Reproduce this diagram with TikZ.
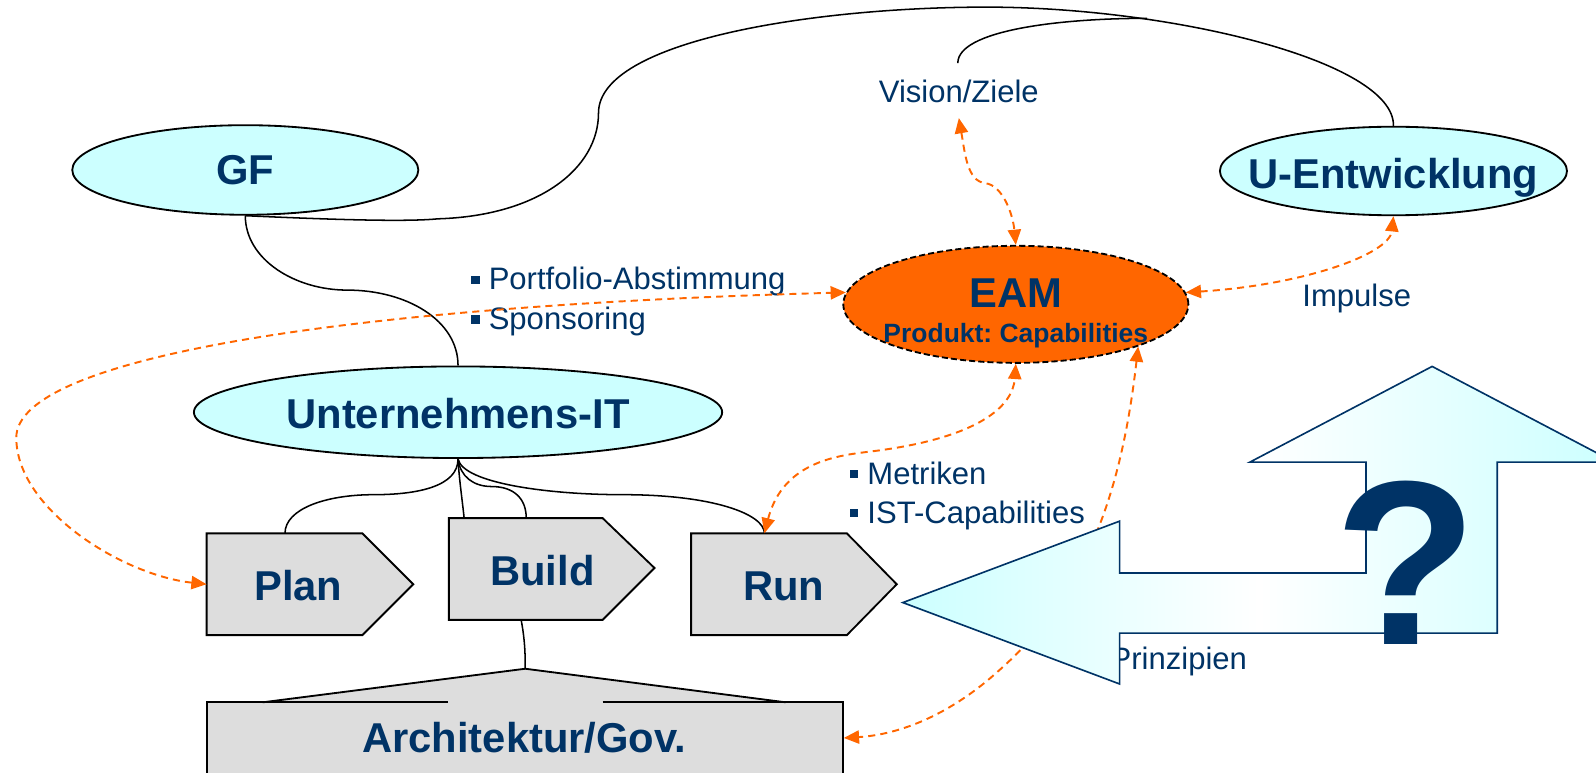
\documentclass[tikz,border=0pt]{standalone}
\usepackage{fontspec}
\setmainfont{Liberation Sans}
\usetikzlibrary{shapes.geometric,arrows.meta}
\definecolor{dblue}{RGB}{0,51,102}
\definecolor{lcyan}{RGB}{204,255,255}
\definecolor{orng}{RGB}{255,102,0}
\definecolor{lgray}{RGB}{221,221,221}
\newcommand{\mybul}{\rule[6pt]{8pt}{8pt}\hspace{9pt}}
\frenchspacing
\begin{document}
\begin{tikzpicture}[x=1pt,y=-1pt,
  bubble/.style={ellipse,draw=black,line width=1.8pt,fill=lcyan,inner sep=0pt},
  big/.style={font=\fontsize{41}{45}\selectfont\bfseries,text=dblue,inner sep=0pt,text height=29.5pt,text depth=0pt},
  mid/.style={font=\fontsize{26}{30}\selectfont\bfseries,text=dblue,inner sep=0pt,text height=18.6pt,text depth=0pt},
  small/.style={font=\fontsize{30.5}{34}\selectfont,text=dblue,inner sep=0pt,text height=21.8pt,text depth=0pt},
  conn/.style={line width=1.5pt,draw=black},
  oarrow/.style={draw=orng,line width=1.9pt,dash pattern=on 7pt off 5pt,
     {Triangle[length=15pt,width=13pt,fill=orng]}-{Triangle[length=15pt,width=13pt,fill=orng]}},
  box/.style={draw=black,line width=1.8pt,fill=lgray}]

\useasboundingbox (0,0) rectangle (1568,759);
\clip (0,0) rectangle (1568,759);

% ellipses
\node[bubble,minimum width=340pt,minimum height=88pt] (gf) at (241,167) {};
\node[big] (gft) at (gf) {GF};
\node[bubble,minimum width=341pt,minimum height=87pt] (ue) at (1369,168) {};
\node[big] (uet) at (1369,170) {U-Entwicklung};
\node[bubble,minimum width=519pt,minimum height=90pt] (uit) at (450,405) {};
\node[big] (uitt) at (450,406) {Unternehmens-IT};
\node[ellipse,draw=black,fill=orng,line width=1.8pt,dash pattern=on 6pt off 3pt,inner sep=0pt,
      minimum width=339pt,minimum height=115pt] (eam) at (998,299) {};
\node[big] (eamt) at (998,287) {EAM};
\node[mid] (eamp) at (998,327) {Produkt: Capabilities};

% process boxes
\draw[box] (203,524) -- (356,524) -- (406,574) -- (356,624) -- (203,624) -- cycle;
\draw[box] (441,509) -- (592,509) -- (643,558) -- (592,609) -- (441,609) -- cycle;
\draw[box] (679,524) -- (832,524) -- (881,574) -- (832,624) -- (679,624) -- cycle;
\node[big] (plan) at (293,575) {Plan};
\node[big] (build) at (533,560) {Build};
\node[big] (run) at (770,575) {Run};
\coordinate (plantop) at (280,524);
\coordinate (planw) at (203,574);
\coordinate (buildtl) at (456,509);
\coordinate (buildtop) at (517,509);
\coordinate (buildbot) at (512,609);
\coordinate (runtop) at (751,524);

% architecture box
\fill[lgray] (203,690) -- (258,690) -- (516,657) -- (772,690) -- (828,690) -- (828,775) -- (203,775) -- cycle;
\draw[line width=1.8pt] (203,775) -- (203,690) -- (440,690);
\draw[line width=1.8pt] (258,690) -- (516,657) -- (772,690);
\draw[line width=1.8pt] (592,690) -- (828,690) -- (828,775);
\coordinate (archpeak) at (516,657);
\coordinate (archr) at (829,725);
\node[big] (arch) at (515,725) {Architektur/Gov.};

% labels
\node[small] (vz) at (942,90) {Vision/Ziele};
\coordinate (vztop) at (941,62);
\coordinate (vzbot) at (942,116);
\node[small,anchor=west] (pf) at (463,274) {\mybul Portfolio-Abstimmung};
\node[small,anchor=west] (sp) at (463,313) {\mybul Sponsoring};
\node[small,anchor=west] (me) at (835,465) {\mybul Metriken};
\node[small,anchor=west] (ist) at (835,503) {\mybul IST-Capabilities};
\node[small] (imp) at (1333,290) {Impulse};
\node[small,anchor=west] (pr) at (1091,647) {Prinzipien};

% black connectors
\draw[conn] (gf.south) .. controls (241,255) and (290,285) .. (341,285)
   .. controls (400,285) and (450,315) .. (uit.north);
\draw[conn] (gf.south) .. controls (330,216) and (400,218) .. (430,215)
   .. controls (530,212) and (588,165) .. (588,111)
   .. controls (588,40) and (800,7) .. (969,7)
   .. controls (1150,7) and (1370,60) .. (ue.north);
\draw[conn] (vztop) .. controls (941,30) and (1040,18) .. (1127,18);
\draw[conn] (uit.south) .. controls (450,478) and (410,486) .. (367,486)
   .. controls (320,486) and (280,500) .. (plantop);
\draw[conn] (uit.south) .. controls (451,470) and (454,490) .. (buildtl);
\draw[conn] (uit.south) .. controls (452,468) and (465,478) .. (483,478)
   .. controls (505,478) and (517,490) .. (buildtop);
\draw[conn] (uit.south) .. controls (455,475) and (540,486) .. (612,486)
   .. controls (700,486) and (751,505) .. (runtop);
\draw[conn] (buildbot) .. controls (516,630) and (516,645) .. (archpeak);

% orange dashed arrows
\draw[oarrow] (vzbot) .. controls (948,150) and (950,178) .. (968,180)
   .. controls (985,182) and (995,210) .. (eam.north);
\draw[oarrow] (eam.4) .. controls (1280,280) and (1365,250) .. (ue.south);
\draw[oarrow] (planw) .. controls (120,565) and (16,500) .. (16,430)
   .. controls (16,350) and (350,300) .. (eam.176);
\draw[oarrow] (runtop) .. controls (770,450) and (830,447) .. (860,443)
   .. controls (960,430) and (995,400) .. (eam.south);
\draw[oarrow] (eam.-19) .. controls (1100,500) and (1060,590) .. (980,660)
   .. controls (930,705) and (880,722) .. (archr);

% big bent arrow
\shadedraw[draw=dblue,line width=1.6pt,left color=lcyan,right color=lcyan,middle color=white]
  (887,592) -- (1100,512) -- (1100,563) -- (1342,563) -- (1342,454) -- (1228,454)
  -- (1407,360) -- (1586,454) -- (1471,454) -- (1471,622) -- (1100,622) -- (1100,672) -- cycle;
\node[font=\fontsize{230}{230}\selectfont\bfseries,text=dblue,inner sep=0pt] (q) at (1381,553) {?};
\end{tikzpicture}
\end{document}
